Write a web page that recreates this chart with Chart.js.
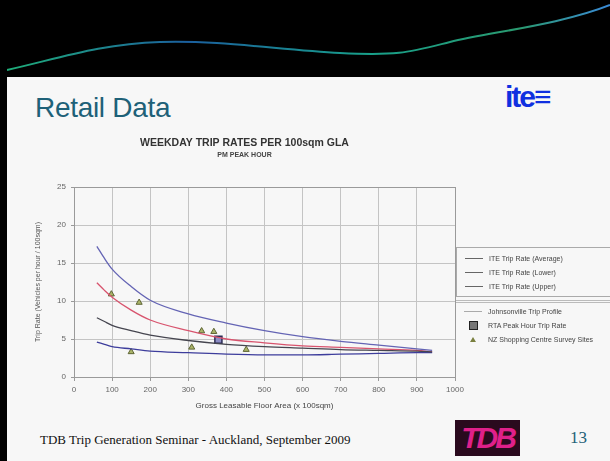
<!DOCTYPE html>
<html>
<head>
<meta charset="utf-8">
<script src="https://cdn.jsdelivr.net/npm/chart.js@4.4.1/dist/chart.umd.min.js"></script>
<style>
  html, body { margin: 0; padding: 0; }
  body { width: 610px; height: 461px; position: relative; overflow: hidden; background: #f7f7f7; font-family: "Liberation Sans", Arial, sans-serif; }
  #band { position: absolute; left: 0; top: 0; width: 610px; height: 77px; background: #000; }
  #edge { position: absolute; left: 0; top: 0; width: 7px; height: 461px; background: #000; }
  #slideTitle { position: absolute; left: 35px; top: 92px; font-size: 28px; color: #1e6178; letter-spacing: -0.3px; }
  #ite { position: absolute; left: 505px; top: 80px; font: bold 30px "Liberation Sans", Arial, sans-serif; color: #1030e0; letter-spacing: -2px; }
  #chartBox { position: absolute; left: 0; top: 125px; width: 470px; height: 290px; }
  #legend { position: absolute; left: 456px; top: 247px; width: 160px; font-size: 7px; color: #444; }
  #legend .box { border: 1px solid #aaa; border-right: none; padding: 3px 0 3px 0; }
  #legend .row { height: 14px; display: flex; align-items: center; }
  #legend .sym { width: 22px; margin-left: 6px; margin-right: 4px; display: flex; justify-content: center; align-items: center; }
  #legend .line { width: 18px; height: 1px; }
  #legend .rest { border-top: 3px double #bbb; margin-top: 3px; padding-top: 1px; }
  #footer { position: absolute; left: 40px; top: 432px; font: 13px "Liberation Serif", "Times New Roman", serif; color: #111; }
  #tdb { position: absolute; left: 455px; top: 420px; width: 65px; height: 36px; background: #2a0a1e; color: #e0208a; font: italic bold 30px "Liberation Sans", Arial, sans-serif; line-height: 36px; text-align: center; letter-spacing: -3px; }
  #page { position: absolute; left: 570px; top: 428px; font: 17px "Liberation Serif", "Times New Roman", serif; color: #1e6178; }
</style>
</head>
<body>
<div id="band"></div>
<svg style="position:absolute;left:0;top:0" width="610" height="77">
  <defs>
    <linearGradient id="wave" x1="0" x2="1" y1="0" y2="0">
      <stop offset="0" stop-color="#1fae7a"/>
      <stop offset="0.3" stop-color="#1b5f9e"/>
      <stop offset="0.6" stop-color="#18a08a"/>
      <stop offset="0.85" stop-color="#2a9a70"/>
      <stop offset="1" stop-color="#3a8ad8"/>
    </linearGradient>
  </defs>
  <path d="M7 70 C 60 58, 100 44, 160 42 S 280 50, 340 53 S 410 52, 450 42 S 560 25, 610 5" fill="none" stroke="url(#wave)" stroke-width="2"/>
</svg>
<div id="edge"></div>
<div id="slideTitle">Retail Data</div>
<div id="ite">ite&#x2261;</div>
<div id="chartBox"><canvas id="chart" width="470" height="290"></canvas></div>
<div id="legend"></div>
<div id="footer">TDB Trip Generation Seminar - Auckland, September 2009</div>
<div id="tdb">TDB</div>
<div id="page">13</div>
<script>
// floor area (x 100sqm) where the curves were read
const curveArea = [60, 80, 100, 150, 200, 300, 400, 500, 600, 700, 800, 900, 940];
const iteAverage = [7.8, 7.3, 6.8, 6.1, 5.5, 4.8, 4.3, 4.0, 3.8, 3.6, 3.5, 3.4, 3.3];
const iteLower = [4.6, 4.3, 4.0, 3.7, 3.4, 3.2, 3.0, 2.9, 2.9, 3.0, 3.1, 3.2, 3.2];
const iteUpper = [17.2, 15.6, 14.2, 11.9, 10.1, 8.3, 7.1, 6.1, 5.3, 4.7, 4.2, 3.7, 3.5];
const johnsonville = [12.4, 11.4, 10.5, 8.8, 7.5, 6.1, 5.0, 4.5, 4.1, 3.9, 3.7, 3.5, 3.3];

const rtaArea = [379];
const rtaRate = [4.9];

const siteArea = [98, 171, 150, 309, 335, 367, 452];
const siteRate = [10.9, 9.8, 3.3, 3.9, 6.05, 5.96, 3.6];

const xTicks = [0, 100, 200, 300, 400, 500, 600, 700, 800, 900, 1000];
const yTicks = [0, 5, 10, 15, 20, 25];

const toPoints = (xs, ys) => xs.map((x, i) => ({ x: x, y: ys[i] }));

const lineSet = (label, ys, color) => ({
  label: label,
  data: toPoints(curveArea, ys),
  showLine: true,
  borderColor: color,
  backgroundColor: color,
  borderWidth: 1.3,
  pointRadius: 0,
  tension: 0.4,
  cubicInterpolationMode: 'monotone',
});

const datasets = [
  lineSet('ITE Trip Rate (Average)', iteAverage, '#45454f'),
  lineSet('ITE Trip Rate (Lower)', iteLower, '#3d3d9c'),
  lineSet('ITE Trip Rate (Upper)', iteUpper, '#6464b4'),
  lineSet('Johnsonville Trip Profile', johnsonville, '#d8546e'),
  {
    label: 'RTA Peak Hour Trip Rate',
    data: toPoints(rtaArea, rtaRate),
    pointStyle: 'rect',
    pointRadius: 5,
    backgroundColor: '#8c8cc4',
    borderColor: '#2c2c55',
    borderWidth: 1.5,
  },
  {
    label: 'NZ Shopping Centre Survey Sites',
    data: toPoints(siteArea, siteRate),
    pointStyle: 'triangle',
    pointRadius: 3.5,
    backgroundColor: '#aab468',
    borderColor: '#5d6434',
    borderWidth: 1,
  },
];

const frame = {
  id: 'frame',
  afterDraw(chart) {
    const a = chart.chartArea;
    const c = chart.ctx;
    c.save();
    c.strokeStyle = '#9a9a9a';
    c.lineWidth = 1;
    c.strokeRect(a.left + 0.5, a.top + 0.5, a.right - a.left, a.bottom - a.top);
    c.restore();
  },
};

new Chart(document.getElementById('chart'), {
  type: 'scatter',
  data: { datasets: datasets },
  plugins: [frame],
  options: {
    responsive: false,
    animation: false,
    layout: { padding: { left: 34, right: 15, top: 12, bottom: 4 } },
    plugins: {
      legend: { display: false },
      tooltip: { enabled: false },
      title: {
        display: true,
        text: 'WEEKDAY TRIP RATES PER 100sqm GLA',
        color: '#333',
        font: { family: 'Liberation Sans', size: 10.5, weight: 'bold' },
        padding: { top: 0, bottom: 1 },
      },
      subtitle: {
        display: true,
        text: 'PM PEAK HOUR',
        color: '#444',
        font: { family: 'Liberation Sans', size: 7, weight: 'bold' },
        padding: { top: 0, bottom: 28 },
      },
    },
    scales: {
      x: {
        type: 'linear',
        min: 0,
        max: 1000,
        afterBuildTicks: (s) => { s.ticks = xTicks.map((v) => ({ value: v })); },
        afterFit: (s) => { s.height = 34; },
        ticks: { color: '#666', font: { family: 'Liberation Sans', size: 8 }, padding: 4, callback: (v) => String(v) },
        grid: { color: '#c4c4c4', borderDash: [2, 3], tickLength: 4, tickColor: '#999' },
        border: { color: '#999' },
        title: {
          display: true,
          text: 'Gross Leasable Floor Area (x 100sqm)',
          color: '#444',
          font: { family: 'Liberation Sans', size: 8 },
          padding: { top: 2, bottom: 0 },
        },
      },
      y: {
        min: 0,
        max: 25,
        afterBuildTicks: (s) => { s.ticks = yTicks.map((v) => ({ value: v })); },
        afterFit: (s) => { s.width = 40; },
        ticks: { color: '#666', font: { family: 'Liberation Sans', size: 8 }, padding: 5 },
        grid: { color: '#c4c4c4', borderDash: [3, 3], tickLength: 3, tickColor: '#999' },
        border: { color: '#999' },
        title: {
          display: true,
          text: 'Trip Rate (Vehicles per hour / 100sqm)',
          color: '#555',
          font: { family: 'Liberation Sans', size: 7 },
          padding: { top: 0, bottom: 0 },
        },
      },
    },
  },
});

// legend built from the dataset labels
const legend = document.getElementById('legend');
const box = document.createElement('div');
box.className = 'box';
const rest = document.createElement('div');
rest.className = 'rest';
datasets.forEach((d, i) => {
  const row = document.createElement('div');
  row.className = 'row';
  let sym;
  if (d.showLine) {
    sym = '<div class="line" style="background:' + (i < 3 ? '#666' : '#aaa') + '"></div>';
  } else if (d.pointStyle === 'rect') {
    sym = '<div style="width:7px;height:7px;background:#777;border:1px solid #222"></div>';
  } else {
    sym = '<div style="width:0;height:0;border-left:3px solid transparent;border-right:3px solid transparent;border-bottom:5px solid #7a8040"></div>';
  }
  row.innerHTML = '<div class="sym">' + sym + '</div><span>' + d.label + '</span>';
  (i < 3 ? box : rest).appendChild(row);
});
legend.appendChild(box);
legend.appendChild(rest);
</script>
</body>
</html>
